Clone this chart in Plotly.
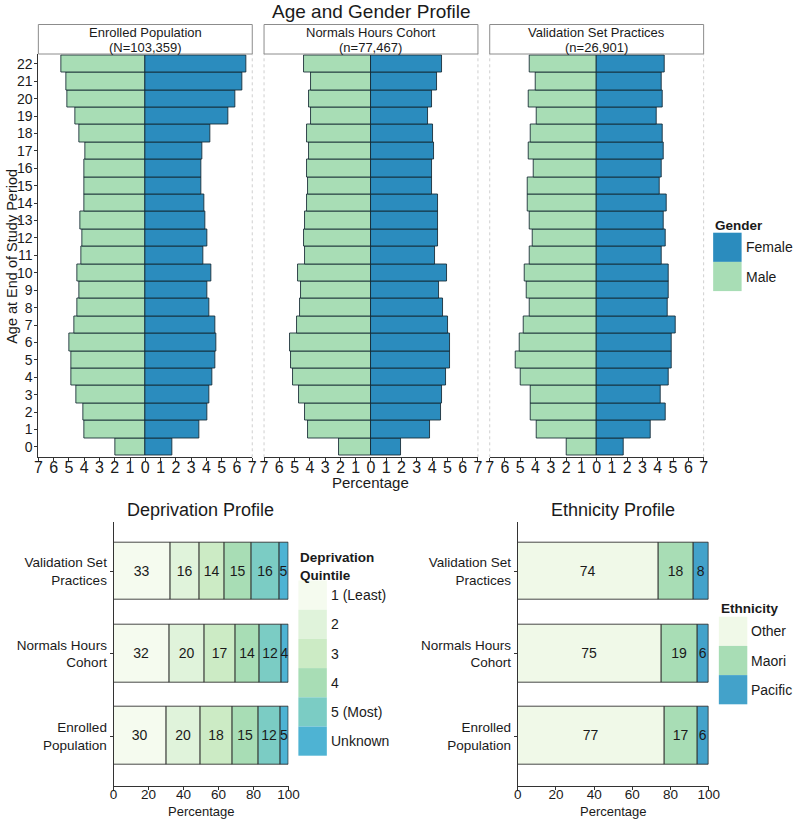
import plotly.graph_objects as go

# ---------------- data ----------------
ages = list(range(23))
age_tick_labels = [str(a) for a in ages]
pct_ticks = list(range(-7, 8))
pct_tick_labels = [str(abs(v)) for v in pct_ticks]

panel_names = ["Enrolled Population", "Normals Hours Cohort", "Validation Set Practices"]
panel_counts = ["(N=103,359)", "(n=77,467)", "(n=26,901)"]

enrolled_male = [1.95, 3.97, 4.08, 4.49, 4.81, 4.85, 4.98, 4.66, 4.47, 4.34, 4.47, 4.21,
                 4.15, 4.25, 3.97, 4.02, 3.97, 3.91, 4.34, 4.55, 5.11, 5.17, 5.49]
enrolled_female = [1.78, 3.55, 4.06, 4.21, 4.40, 4.57, 4.68, 4.57, 4.21, 4.06, 4.34, 3.82,
                   4.06, 3.95, 3.89, 3.65, 3.70, 3.74, 4.23, 5.43, 5.90, 6.37, 6.58]
normals_male = [2.08, 4.15, 4.32, 4.72, 5.13, 5.24, 5.28, 4.85, 4.64, 4.59, 4.79, 4.34,
                4.38, 4.32, 4.17, 4.10, 4.21, 4.04, 4.21, 3.95, 4.06, 3.93, 4.38]
normals_female = [1.95, 3.87, 4.59, 4.66, 4.94, 5.15, 5.15, 5.04, 4.70, 4.44, 4.98, 4.19,
                  4.38, 4.38, 4.38, 4.02, 4.02, 4.12, 4.08, 3.74, 4.02, 4.34, 4.66]
validation_male = [1.94, 3.95, 4.32, 4.32, 4.98, 5.28, 5.04, 4.79, 4.40, 4.59, 4.74, 4.40,
                   4.21, 4.36, 4.49, 4.53, 4.15, 4.42, 4.32, 3.93, 4.47, 4.02, 4.38]
validation_female = [1.74, 3.55, 4.55, 4.19, 4.74, 4.91, 4.91, 5.17, 4.68, 4.72, 4.74, 4.25,
                     4.49, 4.40, 4.59, 4.12, 4.25, 4.38, 4.34, 3.93, 4.34, 4.27, 4.44]

groups = ["Enrolled Population", "Normals Hours Cohort", "Validation Set Practices"]
group_labels = ["Enrolled<br>Population", "Normals Hours<br>Cohort", "Validation Set<br>Practices"]

dep_levels = ["1 (Least)", "2", "3", "4", "5 (Most)", "Unknown"]
dep_enrolled = [30.2, 19.7, 18.0, 15.2, 12.2, 4.7]
dep_normals = [31.9, 20.3, 17.4, 14.1, 12.4, 3.9]
dep_validation = [32.6, 16.4, 14.2, 15.4, 16.1, 5.3]

eth_levels = ["Other", "Maori", "Pacific"]
eth_enrolled = [76.9, 17.3, 5.8]
eth_normals = [75.4, 18.6, 6.0]
eth_validation = [73.9, 18.3, 7.8]

gender_levels = ["Female", "Male"]
gender_colors = {"Female": "#2b8cbe", "Male": "#a8ddb5"}
dep_colors = ["#f5fbef", "#e0f3db", "#ccebc5", "#a8ddb5", "#7bccc4", "#4eb3d3"]
eth_colors = ["#f0f9e8", "#a8ddb5", "#43a2ca"]

# ---------------- layout helpers ----------------
W, H = 800, 819
FONT = "Liberation Sans, Arial, sans-serif"
AX = "#333333"
TXT = "#1a1a1a"


def xd(a, b):
    return [a / W, b / W]


def yd(top, bottom):
    return [1 - bottom / H, 1 - top / H]


def px(v):
    return v / W


def py(v):
    return 1 - v / H


panel_x = [(35, 253), (265, 483), (495, 713)]
pyr_top, pyr_bot = 53.5, 457.3

fig = go.Figure()

pyr_data = [(enrolled_male, enrolled_female),
            (normals_male, normals_female),
            (validation_male, validation_female)]

outline = dict(color="rgba(20,40,50,0.85)", width=1)
for i, (m, f) in enumerate(pyr_data):
    xa = "x" if i == 0 else f"x{i+1}"
    ya = "y" if i == 0 else f"y{i+1}"
    fig.add_trace(go.Bar(y=ages, x=[-v for v in m], orientation="h", width=1,
                         marker=dict(color=gender_colors["Male"], line=outline),
                         xaxis=xa, yaxis=ya, showlegend=False, name="Male"))
    fig.add_trace(go.Bar(y=ages, x=f, orientation="h", width=1,
                         marker=dict(color=gender_colors["Female"], line=outline),
                         xaxis=xa, yaxis=ya, showlegend=False, name="Female"))

ypos = [0, 1, 2]
for k, lvl in enumerate(dep_levels):
    vals = [dep_enrolled[k], dep_normals[k], dep_validation[k]]
    fig.add_trace(go.Bar(y=ypos, x=vals, orientation="h", width=0.7,
                         marker=dict(color=dep_colors[k], line=dict(color="rgba(40,40,40,0.85)", width=1)),
                         texttemplate="%{x:.0f}", textposition="inside", insidetextanchor="middle",
                         textangle=0, textfont=dict(size=14, color=TXT, family=FONT),
                         xaxis="x4", yaxis="y4", showlegend=False, name=lvl))

for k, lvl in enumerate(eth_levels):
    vals = [eth_enrolled[k], eth_normals[k], eth_validation[k]]
    fig.add_trace(go.Bar(y=ypos, x=vals, orientation="h", width=0.7,
                         marker=dict(color=eth_colors[k], line=dict(color="rgba(40,40,40,0.85)", width=1)),
                         texttemplate="%{x:.0f}", textposition="inside", insidetextanchor="middle",
                         textangle=0, textfont=dict(size=14, color=TXT, family=FONT),
                         xaxis="x5", yaxis="y5", showlegend=False, name=lvl))

pyr_x_axis = dict(range=[-7, 7], tickvals=pct_ticks, ticktext=pct_tick_labels,
                  ticks="outside", ticklen=3, tickcolor=AX, showline=True, linecolor=AX,
                  linewidth=1, showgrid=False, zeroline=False, ticklabelstandoff=-8,
                  tickfont=dict(size=16, color=TXT, family=FONT), fixedrange=True)

layout = dict(
    width=W, height=H, autosize=False,
    margin=dict(l=0, r=0, t=0, b=0),
    paper_bgcolor="white", plot_bgcolor="rgba(0,0,0,0)",
    barmode="relative", bargap=0,
    font=dict(family=FONT, color=TXT),
    uniformtext=dict(minsize=14, mode="show"),
    showlegend=False,
)
for i, (a, b) in enumerate(panel_x):
    key = "xaxis" if i == 0 else f"xaxis{i+1}"
    yk = "y" if i == 0 else f"y{i+1}"
    layout[key] = dict(pyr_x_axis, domain=xd(a, b), anchor=yk)

layout["yaxis"] = dict(domain=yd(pyr_top, pyr_bot), anchor="x", range=[-0.6, 22.6],
                       tickvals=ages, ticktext=age_tick_labels, ticks="outside", ticklen=3,
                       tickcolor=AX, showline=True, linecolor=AX, linewidth=1,
                       showgrid=False, zeroline=False, ticklabelstandoff=-1,
                       tickfont=dict(size=14, color=TXT, family=FONT))
for i in (2, 3):
    layout[f"yaxis{i}"] = dict(domain=yd(pyr_top, pyr_bot), anchor=f"x{i}", matches="y",
                               range=[-0.6, 22.6], showticklabels=False, ticks="",
                               showline=False, showgrid=False, zeroline=False)

bot_top, bot_bot = 521.7, 785.5
for key, (a, b), xa in (("4", (111.7, 290), "x4"), ("5", (523.5, 718.3), "x5")):
    layout[f"xaxis{key}"] = dict(domain=xd(a, b), anchor=f"y{key}", range=[0, 100],
                                 tickvals=[0, 20, 40, 60, 80, 100], ticks="outside", ticklen=3,
                                 tickcolor=AX, showline=True, linecolor=AX, linewidth=1,
                                 showgrid=False, zeroline=False, ticklabelstandoff=-7,
                                 tickfont=dict(size=13.5, color=TXT, family=FONT))
    layout[f"yaxis{key}"] = dict(domain=yd(bot_top, bot_bot), anchor=xa, range=[-0.6, 2.6],
                                 tickvals=ypos, ticktext=group_labels, ticks="outside", ticklen=3,
                                 tickcolor=AX, showline=True, linecolor=AX, linewidth=1,
                                 showgrid=False, zeroline=False,
                                 tickfont=dict(size=13.5, color=TXT, family=FONT))

fig.update_layout(**layout)

shapes = []
annotations = []


def ann(text, x, y, size, **kw):
    d = dict(text=text, xref="paper", yref="paper", x=px(x), y=py(y), showarrow=False,
             font=dict(size=size, family=FONT, color=TXT), xanchor="center",
             yanchor="middle")
    d.update(kw)
    annotations.append(d)


for i, (a, b) in enumerate(panel_x):
    for xv in (a, b):
        if i == 0 and xv == a:
            continue
        shapes.append(dict(type="line", xref="paper", yref="paper", x0=px(xv), x1=px(xv),
                           y0=py(pyr_bot), y1=py(pyr_top), layer="below",
                           line=dict(color="#cfcfcf", width=1, dash="dot")))
    shapes.append(dict(type="rect", xref="paper", yref="paper", x0=px(a), x1=px(b),
                       y0=py(54), y1=py(24.5), fillcolor="white",
                       line=dict(color="#8c8c8c", width=1)))
    ann(panel_names[i], (a + b) / 2, 33, 13)
    ann(panel_counts[i], (a + b) / 2, 47, 13)

ann("Age and Gender Profile", 375, 12, 19)
ann("Age at End of Study Period", 8, 256, 14.5, textangle=-90)
ann("Percentage", 374, 482, 15)
ann("Deprivation Profile", 200, 510, 18)
ann("Ethnicity Profile", 621, 510, 18)
ann("Percentage", 201, 811, 13)
ann("Percentage", 621, 811, 13)


def legend(title, title_y, x0, y0, labels, colors, key_w=29, key_h=29.2):
    ann(f"<b>{title}</b>", x0, title_y, 13.5, xanchor="left", align="left")
    for j, (lab, col) in enumerate(zip(labels, colors)):
        top = y0 + j * key_h
        shapes.append(dict(type="rect", xref="paper", yref="paper", x0=px(x0), x1=px(x0 + key_w),
                           y0=py(top + key_h), y1=py(top), fillcolor=col, line=dict(width=0)))
        ann(lab, x0 + key_w + 2, top + key_h / 2, 14, xanchor="left")


legend("Gender", 225, 722.7, 232.7, gender_levels,
       [gender_colors[g] for g in gender_levels])
legend("Deprivation<br>Quintile", 566, 300, 580.5, dep_levels, dep_colors)
legend("Ethnicity", 608, 728.5, 616.7, eth_levels, eth_colors)

fig.update_layout(shapes=shapes, annotations=annotations)
fig.write_html("out.html", config={"displayModeBar": False},
               post_script="document.body.style.margin='0px';document.body.style.overflow='hidden';")
